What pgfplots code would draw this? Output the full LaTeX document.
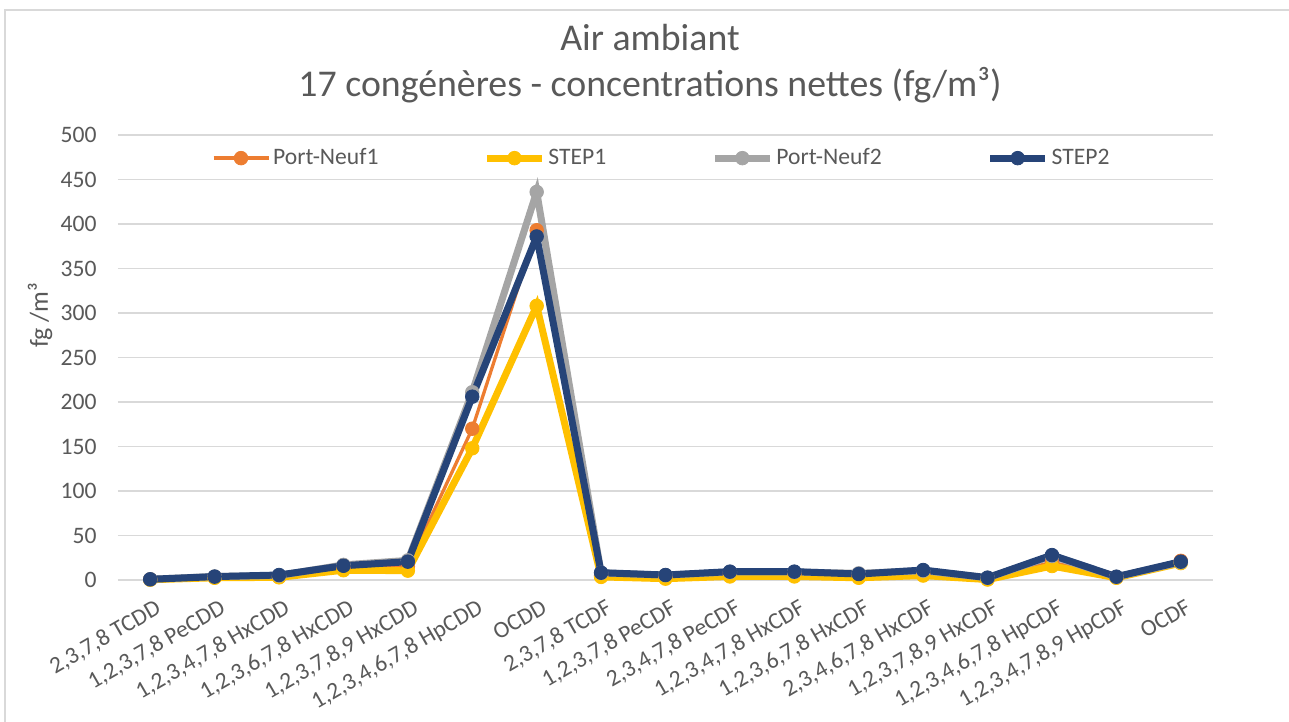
\documentclass[border=0pt]{standalone}
\usepackage{fontspec}
\setmainfont{Carlito}
\usepackage{pgfplots}
\pgfplotsset{compat=1.18}
\definecolor{pnorange}{HTML}{ED7D31}
\definecolor{styellow}{HTML}{FFC000}
\definecolor{pngray}{HTML}{A5A5A5}
\definecolor{stblue}{HTML}{264478}
\definecolor{gridgray}{HTML}{D9D9D9}
\definecolor{txtgray}{HTML}{595959}

\newcommand{\lblfont}{\fontsize{11.8}{14}\selectfont}

\begin{document}
\begin{tikzpicture}
% picture frame: 1px = 0.5pt, plot area SW corner at (0,0)
\path[use as bounding box] (-59pt,-71pt) rectangle (585.5pt,290pt);
\draw[gridgray, line width=0.75pt] (-56.5pt,-71pt) -- (-56.5pt,285pt) -- (585.5pt,285pt);

\begin{axis}[
  at={(0,0)}, anchor=south west,
  scale only axis, width=547.5pt, height=222.5pt,
  xmin=-0.5, xmax=16.5, ymin=0, ymax=500,
  clip=false,
  axis line style={draw=none},
  major tick length=0pt,
  ymajorgrids, grid style={gridgray, line width=0.75pt},
  ytick={0,50,...,500},
  xtick={0,...,16},
  xticklabels={{2,3,7,8 TCDD},{1,2,3,7,8 PeCDD},{1,2,3,4,7,8 HxCDD},{1,2,3,6,7,8 HxCDD},
    {1,2,3,7,8,9 HxCDD},{1,2,3,4,6,7,8 HpCDD},{OCDD},{2,3,7,8 TCDF},{1,2,3,7,8 PeCDF},
    {2,3,4,7,8 PeCDF},{1,2,3,4,7,8 HxCDF},{1,2,3,6,7,8 HxCDF},{2,3,4,6,7,8 HxCDF},
    {1,2,3,7,8,9 HxCDF},{1,2,3,4,6,7,8 HpCDF},{1,2,3,4,7,8,9 HpCDF},{OCDF}},
  /pgf/number format/assume math mode=true,
  ticklabel style={font=\lblfont, text=txtgray},
  yticklabel style={anchor=east, inner sep=0pt, xshift=-10.5pt},
  xticklabel style={inner sep=0pt, xshift=2pt, yshift=-9pt, rotate=30, anchor=north east},
  legend columns=4,
  legend style={at={(0.497,0.948)}, anchor=center, draw=none, fill=none,
    font=\lblfont, text=txtgray, nodes={inner xsep=1.5pt},
    /tikz/every odd column/.append style={column sep=0pt},
    /tikz/every even column/.append style={column sep=51pt}},
  legend image code/.code={
    \draw[mark repeat=2, mark phase=2] plot coordinates {(0pt,0pt) (13.75pt,0pt) (27.5pt,0pt)};},
  every axis plot/.append style={mark=*, mark size=3.4pt},
]
\addplot[pnorange, line width=1.65pt, mark options={line width=0.4pt, fill=pnorange}] coordinates {
  (0,0.6) (1,3) (2,3.5) (3,13) (4,15) (5,170) (6,393) (7,5) (8,3) (9,6) (10,6)
  (11,4.5) (12,7) (13,1.5) (14,20) (15,3) (16,21.5)};
\addlegendentry{Port-Neuf1}
\addplot[styellow, line width=3.5pt, mark options={line width=0.4pt, fill=styellow}] coordinates {
  (0,0.3) (1,2.5) (2,3) (3,11) (4,10.5) (5,148) (6,308) (7,3.5) (8,1.5) (9,4) (10,4)
  (11,2.5) (12,5) (13,0.5) (14,15.7) (15,2.5) (16,19)};
\addlegendentry{STEP1}
\addplot[pngray, line width=3.5pt, mark options={line width=0.4pt, fill=pngray}] coordinates {
  (0,0.8) (1,4) (2,5) (3,17) (4,22) (5,211) (6,436) (7,8) (8,5.5) (9,9) (10,9)
  (11,7.5) (12,10.5) (13,2.5) (14,27) (15,3.5) (16,20)};
\addlegendentry{Port-Neuf2}
\addplot[stblue, line width=3.5pt, mark options={line width=0.4pt, fill=stblue}] coordinates {
  (0,0.8) (1,3.8) (2,5.6) (3,16) (4,20.6) (5,206) (6,386) (7,8.2) (8,5.6) (9,9.4) (10,9.4)
  (11,6.7) (12,11.2) (13,2.6) (14,28) (15,3.7) (16,20.6)};
\addlegendentry{STEP2}
\end{axis}

\node[text=txtgray, font=\fontsize{18.9}{22}\selectfont] at (266pt,271pt) {Air ambiant};
\node[text=txtgray, font=\fontsize{18.9}{22}\selectfont] at (266pt,247.5pt) {17 congénères - concentrations nettes (fg/m³)};
\node[text=txtgray, rotate=90, font=\fontsize{13}{15}\selectfont] at (-39pt,132.5pt) {fg /m³};
\end{tikzpicture}
\end{document}
